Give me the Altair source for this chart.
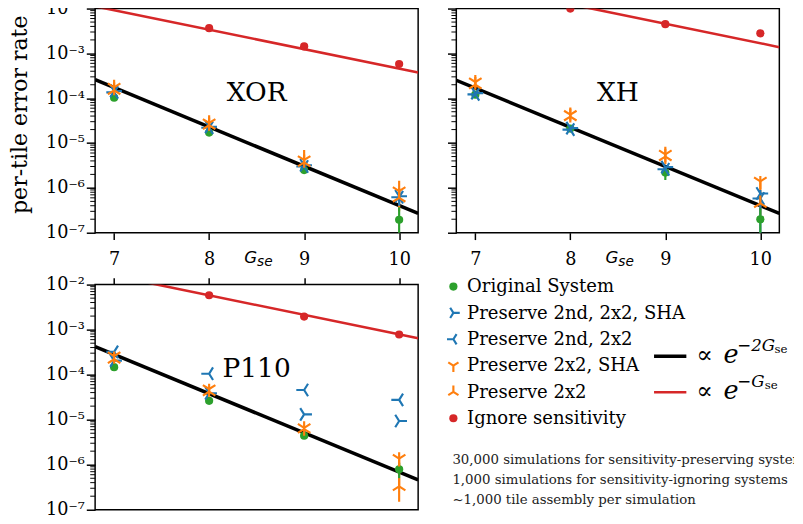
import altair as alt
import pandas as pd

# ---------------- data ----------------
G = [7, 8, 9, 10]
G_EDGES = [6.8, 10.2]
Y_TICKS = [1e-7, 1e-6, 1e-5, 1e-4, 1e-3, 1e-2]
Y_MINOR = [m * 10.0 ** k for k in range(-7, -2) for m in range(2, 10)]

SERIES = ["Original System", "Preserve 2nd, 2x2, SHA", "Preserve 2nd, 2x2",
          "Preserve 2x2, SHA", "Preserve 2x2", "Ignore sensitivity"]
COLORS = ["#2ca02c", "#1f77b4", "#1f77b4", "#ff7f0e", "#ff7f0e", "#d62728"]
TRI_RIGHT = "M0,0L1,0M0,0L-0.5,-0.8M0,0L-0.5,0.8"
TRI_LEFT = "M0,0L-1,0M0,0L0.5,-0.8M0,0L0.5,0.8"
TRI_DOWN = "M0,0L0,1M0,0L-0.8,-0.5M0,0L0.8,-0.5"
TRI_UP = "M0,0L0,-1M0,0L-0.8,0.5M0,0L0.8,0.5"
SHAPES = ["circle", TRI_RIGHT, TRI_LEFT, TRI_DOWN, TRI_UP, "circle"]
FIT_COLORS = ["black", "#d62728"]

# XOR
xor_orig = [1.03e-4, 1.71e-5, 2.5e-6, 1.95e-7]
xor_p2s = [1.45e-4, 2.3e-5, 3.2e-6, 6.5e-7]
xor_p2 = [1.35e-4, 2.2e-5, 3.0e-6, 6.2e-7]
xor_ps = [1.75e-4, 2.8e-5, 4.2e-6, 8.5e-7]
xor_pu = [1.5e-4, 2.5e-5, 3.7e-6, 6.0e-7]
xor_ign = [1.6e-2, 3.65e-3, 1.43e-3, 5.8e-4]
xor_fit2 = [2.59e-4, 2.69e-7]
xor_fit1 = [1.12e-2, 3.75e-4]

# XH
xh_orig = [1.2e-4, 2.1e-5, 2.2e-6, 2.0e-7]
xh_p2s = [1.3e-4, 2.15e-5, 2.9e-6, 7.5e-7]
xh_p2 = [1.22e-4, 2.0e-5, 2.6e-6, 5.8e-7]
xh_ps = [2.3e-4, 4.3e-5, 5.6e-6, 1.4e-6]
xh_pu = [2.0e-4, 3.9e-5, 5.0e-6, 4.5e-7]
xh_ign = [2.5e-2, 1.0e-2, 4.48e-3, 2.8e-3]
xh_fit2 = [2.51e-4, 2.69e-7]
xh_fit1 = [4.15e-2, 1.38e-3]

# P110
p110_orig = [1.47e-4, 2.63e-5, 4.4e-6, 7.9e-7]
p110_p2s = [2.05e-4, 3.87e-5, 1.31e-5, 9.35e-6]
p110_p2 = [3.2e-4, 1.05e-4, 4.56e-5, 2.76e-5]
p110_ps = [2.6e-4, 4.8e-5, 6.6e-6, 1.37e-6]
p110_pu = [2.2e-4, 4.2e-5, 6.2e-6, 3.3e-7]
p110_ign = [1.6e-2, 5.8e-3, 1.95e-3, 7.8e-4]
p110_fit2 = [4.2e-4, 4.6e-7]
p110_fit1 = [1.92e-2, 6.4e-4]

# visible error bars: (panel, series, G, low, high)
ERRORBARS = [
    ("XOR", "Preserve 2x2, SHA", 7, 1.4e-4, 2.6e-4),
    ("XOR", "Preserve 2x2, SHA", 8, 2.2e-5, 4.2e-5),
    ("XOR", "Preserve 2x2, SHA", 9, 3.2e-6, 7.0e-6),
    ("XOR", "Preserve 2x2, SHA", 10, 4.5e-7, 1.45e-6),
    ("XOR", "Preserve 2x2", 10, 3.0e-7, 1.0e-6),
    ("XOR", "Preserve 2nd, 2x2, SHA", 10, 4.0e-7, 9.0e-7),
    ("XOR", "Original System", 10, 5e-8, 3.7e-7),
    ("XH", "Preserve 2x2, SHA", 7, 1.7e-4, 3.3e-4),
    ("XH", "Preserve 2x2, SHA", 8, 3.2e-5, 6.2e-5),
    ("XH", "Preserve 2x2, SHA", 9, 3.4e-6, 8.3e-6),
    ("XH", "Preserve 2x2, SHA", 10, 8.0e-7, 1.85e-6),
    ("XH", "Preserve 2x2", 10, 2.5e-7, 8.0e-7),
    ("XH", "Preserve 2nd, 2x2, SHA", 10, 5e-8, 9.0e-7),
    ("XH", "Original System", 10, 5e-8, 3.5e-7),
    ("XH", "Original System", 9, 1.5e-6, 3.0e-6),
    ("P110", "Preserve 2x2, SHA", 10, 8.0e-7, 1.9e-6),
    ("P110", "Preserve 2x2", 10, 1.5e-7, 7.0e-7),
    ("P110", "Original System", 10, 5.0e-7, 1.1e-6),
]

NOTES = ["30,000 simulations for sensitivity-preserving systems",
         "1,000 simulations for sensitivity-ignoring systems",
         "~1,000 tile assembly per simulation"]

PANELS = {
    "XOR": ([xor_orig, xor_p2s, xor_p2, xor_ps, xor_pu, xor_ign], xor_fit2, xor_fit1),
    "XH": ([xh_orig, xh_p2s, xh_p2, xh_ps, xh_pu, xh_ign], xh_fit2, xh_fit1),
    "P110": ([p110_orig, p110_p2s, p110_p2, p110_ps, p110_pu, p110_ign], p110_fit2, p110_fit1),
}

# ---------------- style ----------------
SERIF = "DejaVu Serif"
W = 330
H_TOP = 229
H_BOT = 230
LABEL_EXPR = ("datum.value < 5e-7 ? '10⁻⁷' : datum.value < 5e-6 ? '10⁻⁶' : "
              "datum.value < 5e-5 ? '10⁻⁵' : datum.value < 5e-4 ? '10⁻⁴' : "
              "datum.value < 5e-3 ? '10⁻³' : '10⁻²'")

color_scale = alt.Scale(domain=SERIES, range=COLORS)
shape_scale = alt.Scale(domain=SERIES, range=SHAPES)


def static_text(s, x, y, size, font=SERIF, style="normal", align="left",
                baseline="alphabetic", clip=False):
    return alt.Chart(pd.DataFrame({"t": [s]})).mark_text(
        font=font, fontSize=size, fontStyle=style, align=align,
        baseline=baseline, color="black", clip=clip
    ).encode(text="t:N", x=alt.value(x), y=alt.value(y))


def make_panel(name, top_row, left_col, height):
    vals, fit2, fit1 = PANELS[name]
    rows = []
    for s, v in zip(SERIES, vals):
        for g, y in zip(G, v):
            rows.append({"G": g, "rate": y, "series": s})
    df = pd.DataFrame(rows)
    err_df = pd.DataFrame([{"G": g, "lo": lo, "hi": hi, "series": s}
                           for (p, s, g, lo, hi) in ERRORBARS if p == name])

    xs = alt.Scale(domain=G_EDGES, nice=False, zero=False)
    ys = alt.Scale(type="log", domain=[1e-7, 1e-2], nice=False)
    if top_row:
        xaxis = alt.Axis(values=G, orient="bottom", title=None, format="d",
                         tickSize=7, tickWidth=1.5, tickColor="black", domain=False,
                         grid=False, labelAngle=0, labelFont=SERIF, labelFontSize=18,
                         labelColor="black", labelBaseline="alphabetic", labelPadding=25)
    else:
        xaxis = alt.Axis(values=G, orient="top", title=None, labels=False,
                         tickSize=7, tickWidth=1.5, tickColor="black", domain=False,
                         grid=False)
    if left_col:
        yaxis = alt.Axis(values=Y_TICKS, title="per-tile error rate",
                         titleFont=SERIF, titleFontSize=22.5, titleFontWeight="normal",
                         titleColor="black", titleOpacity=1 if top_row else 0,
                         titleY=108, titlePadding=14, labelExpr=LABEL_EXPR,
                         labelFont=SERIF, labelFontSize=18, labelColor="black",
                         labelPadding=2, tickSize=9, tickWidth=1.5, tickColor="black",
                         domain=False, grid=False)
    else:
        yaxis = alt.Axis(values=Y_TICKS, title=None, labels=False, tickSize=9,
                         tickWidth=1.5, tickColor="black", domain=False, grid=False)

    X = alt.X("G:Q", scale=xs, axis=xaxis)
    Y = alt.Y("rate:Q", scale=ys, axis=yaxis)

    minor = alt.Chart(pd.DataFrame({"rate": Y_MINOR})).mark_rule(
        color="black", strokeWidth=1).encode(
        y=Y, x=alt.value(-5), x2=alt.value(0))

    line2 = alt.Chart(pd.DataFrame({"G": G_EDGES, "rate": fit2})).mark_line(
        clip=True, color=FIT_COLORS[0], strokeWidth=3.6).encode(x=X, y=Y)
    line1 = alt.Chart(pd.DataFrame({"G": G_EDGES, "rate": fit1})).mark_line(
        clip=True, color=FIT_COLORS[1], strokeWidth=2.6).encode(x=X, y=Y)

    errs = alt.Chart(err_df).mark_rule(strokeWidth=2.2, clip=True).encode(
        x=X, y=alt.Y("lo:Q", scale=ys, axis=yaxis), y2="hi:Q",
        color=alt.Color("series:N", scale=color_scale, legend=None))

    green = alt.Chart(df[df.series == SERIES[0]]).mark_point(
        filled=True, size=70, opacity=1, shape="circle", clip=True).encode(
        x=X, y=Y, color=alt.Color("series:N", scale=color_scale, legend=None))

    tri = alt.Chart(df[df.series.isin(SERIES[1:5])]).mark_point(
        filled=False, size=256, strokeWidth=2.2, opacity=1, clip=True).encode(
        x=X, y=Y, color=alt.Color("series:N", scale=color_scale, legend=None),
        shape=alt.Shape("series:N", scale=shape_scale, legend=None))

    red = alt.Chart(df[df.series == SERIES[5]]).mark_point(
        filled=True, size=70, opacity=1, shape="circle", clip=True).encode(
        x=X, y=Y, color=alt.Color("series:N", scale=color_scale, legend=None))

    layers = [minor, line2, line1, errs, green, tri, red,
              static_text(name, 165, 86, 27, align="center", baseline="middle")]
    if top_row:
        layers += [static_text("G", 165.5, height + 31, 17, font="DejaVu Sans",
                               style="italic", align="right"),
                   static_text("se", 165.5, height + 33.5, 14, font="DejaVu Sans",
                               style="italic", align="left")]
    return alt.layer(*layers).properties(width=W, height=height)


# ---------------- legend panel ----------------
LW, LH = 363, 236
leg_df = pd.DataFrame({"series": SERIES, "row": list(range(len(SERIES)))})
row_scale = alt.Scale(domain=[0, 1], range=[2, 28.9])
LY = alt.Y("row:Q", scale=row_scale, axis=None)

leg_circles = alt.Chart(leg_df[leg_df.series.isin([SERIES[0], SERIES[5]])]).mark_point(
    filled=True, size=70, opacity=1, shape="circle").encode(
    x=alt.value(15), y=LY, color=alt.Color("series:N", scale=color_scale, legend=None))
leg_tri = alt.Chart(leg_df[leg_df.series.isin(SERIES[1:5])]).mark_point(
    filled=False, size=170, strokeWidth=2.2, opacity=1).encode(
    x=alt.value(15), y=LY, color=alt.Color("series:N", scale=color_scale, legend=None),
    shape=alt.Shape("series:N", scale=shape_scale, legend=None))
leg_text = alt.Chart(leg_df).mark_text(
    font=SERIF, fontSize=18.4, align="left", baseline="middle", color="black").encode(
    x=alt.value(29), y=LY, text="series:N")

one_row = pd.DataFrame({"k": [0]})
fit_line2 = alt.Chart(one_row).mark_rule(color=FIT_COLORS[0], strokeWidth=3.6).encode(
    x=alt.value(220), x2=alt.value(253), y=alt.value(73.3))
fit_line1 = alt.Chart(one_row).mark_rule(color=FIT_COLORS[1], strokeWidth=2.6).encode(
    x=alt.value(220), x2=alt.value(253), y=alt.value(110))

math = [
    static_text("∝", 263, 80, 25),
    static_text("e", 291, 80, 26, style="italic", clip=True),
    static_text("−2G", 305, 67.5, 17, style="italic", clip=True),
    static_text("se", 343, 70, 12, clip=True),
    static_text("∝", 263, 117, 25),
    static_text("e", 291, 117, 26, style="italic", clip=True),
    static_text("−G", 305, 104.5, 17, style="italic", clip=True),
    static_text("se", 333, 107, 12, clip=True),
]

notes_df = pd.DataFrame({"t": NOTES, "row": list(range(len(NOTES)))})
notes = alt.Chart(notes_df).mark_text(
    font=SERIF, fontSize=13.6, align="left", baseline="middle", color="#222222",
    clip=True).encode(
    x=alt.value(14), y=alt.Y("row:Q", scale=alt.Scale(domain=[0, 1], range=[179, 199.5]),
                             axis=None), text="t:N")

legend_panel = alt.layer(leg_circles, leg_tri, leg_text, fit_line2, fit_line1,
                         *math, notes).resolve_scale(y="independent").properties(
    width=LW, height=LH, view=alt.ViewBackground(stroke="transparent"))

# ---------------- assemble ----------------
top = alt.hconcat(make_panel("XOR", True, True, H_TOP), make_panel("XH", True, False, H_TOP),
                  spacing=27)
bottom = alt.hconcat(make_panel("P110", False, True, H_BOT), legend_panel, spacing=19)
chart = alt.vconcat(top, bottom, spacing=5).properties(
    padding={"top": -15, "left": 0, "right": 0, "bottom": 0}).configure_view(
    stroke="black", strokeWidth=1.5)

chart.save("out.html", embed_options={"renderer": "svg", "actions": False})
